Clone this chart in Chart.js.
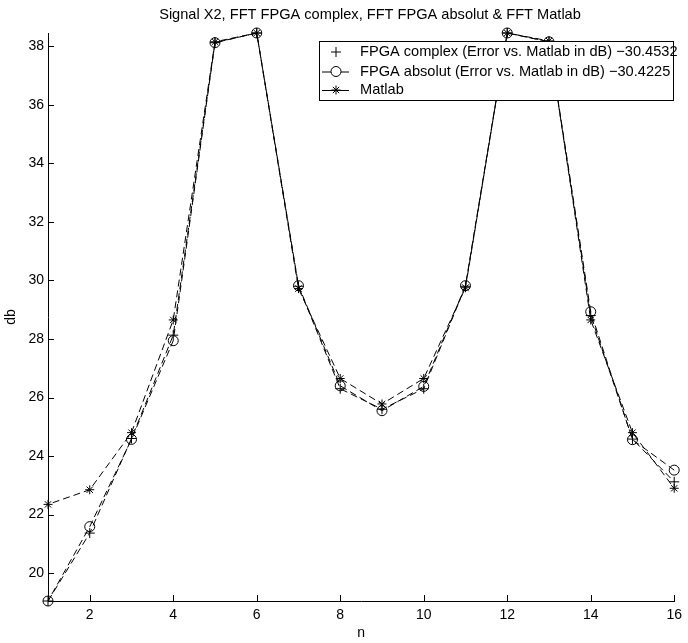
<!DOCTYPE html>
<html>
<head>
<meta charset="utf-8">
<script src="https://cdn.jsdelivr.net/npm/chart.js@4.4.1/dist/chart.umd.min.js"></script>
<style>
  html, body { margin: 0; padding: 0; background: #fff; }
</style>
</head>
<body>
<canvas id="myChart" width="688" height="643"></canvas>
<script>
const n = [1, 2, 3, 4, 5, 6, 7, 8, 9, 10, 11, 12, 13, 14, 15, 16];
const fpgaComplex = [19.05, 21.37, 24.6, 28.13, 38.12, 38.45, 29.8, 26.3, 25.6, 26.3, 29.8, 38.45, 38.15, 28.8, 24.58, 23.12];
const fpgaAbsolut = [19.05, 21.59, 24.57, 27.94, 38.12, 38.45, 29.82, 26.4, 25.55, 26.38, 29.82, 38.45, 38.15, 28.93, 24.56, 23.52];
const matlab = [22.35, 22.85, 24.8, 28.65, 38.15, 38.45, 29.72, 26.65, 25.78, 26.65, 29.75, 38.45, 38.18, 28.65, 24.8, 22.9];
const xTicks = [2, 4, 6, 8, 10, 12, 14, 16];
const yTicks = [20, 22, 24, 26, 28, 30, 32, 34, 36, 38];
const titleText = "Signal X2, FFT FPGA complex, FFT FPGA absolut & FFT Matlab";
const legendLabels = [
  "FPGA complex (Error vs. Matlab in dB) \u221230.4532",
  "FPGA absolut (Error vs. Matlab in dB) \u221230.4225",
  "Matlab"
];

const FONT = "'Liberation Sans', Arial, Helvetica, sans-serif";

function toPoints(ys) {
  return ys.map((y, i) => ({ x: n[i], y: y }));
}

// title sits a bit right of the page centre, like the matlab figure
const plotTitle = {
  id: "plotTitle",
  afterDraw(chart) {
    const ctx = chart.ctx;
    ctx.save();
    ctx.font = "14.6px " + FONT;
    ctx.fillStyle = "#000";
    ctx.textAlign = "center";
    ctx.textBaseline = "middle";
    ctx.fillText(titleText, 370, 15);
    ctx.restore();
  }
};

// short inward ticks
const innerTicks = {
  id: "innerTicks",
  afterDraw(chart) {
    const { ctx, chartArea, scales } = chart;
    ctx.save();
    ctx.strokeStyle = "#000";
    ctx.lineWidth = 1;
    ctx.beginPath();
    yTicks.forEach(v => {
      const y = Math.round(scales.y.getPixelForValue(v)) + 0.5;
      ctx.moveTo(chartArea.left, y);
      ctx.lineTo(chartArea.left + 6, y);
    });
    xTicks.forEach(v => {
      const x = Math.round(scales.x.getPixelForValue(v)) + 0.5;
      ctx.moveTo(x, chartArea.bottom);
      ctx.lineTo(x, chartArea.bottom - 6);
    });
    ctx.stroke();
    ctx.restore();
  }
};

// boxed legend inside the plot, top right
const boxLegend = {
  id: "boxLegend",
  afterDraw(chart) {
    const ctx = chart.ctx;
    const left = 319.5, top = 41.5, right = 673.5, bottom = 100.5;
    ctx.save();
    ctx.fillStyle = "#fff";
    ctx.fillRect(left, top, right - left, bottom - top);
    ctx.strokeStyle = "#000";
    ctx.lineWidth = 1;
    ctx.strokeRect(left, top, right - left, bottom - top);
    const rows = [52, 71.5, 90];
    const styles = ["cross", "circle", "star"];
    const radii = [5, 5, 4.5];
    ctx.font = "14.6px " + FONT;
    ctx.textBaseline = "middle";
    rows.forEach((y, i) => {
      if (i > 0) {
        ctx.beginPath();
        ctx.moveTo(322, y + 0.5);
        ctx.lineTo(349, y + 0.5);
        ctx.stroke();
      }
      ctx.fillStyle = "#fff";
      Chart.helpers.drawPoint(ctx, { pointStyle: styles[i], radius: radii[i], rotation: 0, borderWidth: 1 }, 336, y);
      ctx.fillStyle = "#000";
      ctx.fillText(legendLabels[i], 360, y);
    });
    ctx.restore();
  }
};

function series(data, style, radius, offset) {
  return {
    data: toPoints(data),
    borderColor: "#000",
    borderWidth: 1,
    borderDash: [7, 4],
    borderDashOffset: offset,
    pointStyle: style,
    pointRadius: radius,
    pointHoverRadius: radius,
    pointBorderColor: "#000",
    pointBackgroundColor: "rgba(0,0,0,0)",
    pointBorderWidth: 1,
    tension: 0,
    fill: false,
    clip: false
  };
}

new Chart(document.getElementById("myChart"), {
  type: "line",
  data: {
    datasets: [
      series(fpgaComplex, "cross", 5, 0),
      series(fpgaAbsolut, "circle", 5, 3),
      series(matlab, "star", 4.5, 6)
    ]
  },
  options: {
    responsive: false,
    animation: false,
    events: [],
    layout: { padding: { right: 12, left: 0, bottom: 0, top: 33 } },
    plugins: {
      legend: { display: false },
      tooltip: { enabled: false },
      title: { display: false }
    },
    scales: {
      x: {
        type: "linear",
        min: 1,
        max: 16,
        afterBuildTicks: s => { s.ticks = xTicks.map(v => ({ value: v })); },
        afterFit: s => { s.height = 42; },
        grid: { display: false, drawTicks: false },
        border: { display: true, color: "#000", width: 1 },
        ticks: { color: "#000", padding: 6, font: { family: FONT, size: 14 }, maxRotation: 0 },
        title: { display: true, text: "n", color: "#000", font: { family: FONT, size: 14 }, padding: { top: 0, bottom: 1 } }
      },
      y: {
        min: 19.05,
        max: 38.45,
        afterBuildTicks: s => { s.ticks = yTicks.map(v => ({ value: v })); },
        afterFit: s => { s.width = 48; },
        grid: { display: false, drawTicks: false },
        border: { display: true, color: "#000", width: 1 },
        ticks: { color: "#000", padding: 4, font: { family: FONT, size: 14 } },
        title: { display: true, text: "db", color: "#000", font: { family: FONT, size: 14 }, padding: { top: 3, bottom: 0 } }
      }
    }
  },
  plugins: [innerTicks, boxLegend, plotTitle]
});
</script>
</body>
</html>
